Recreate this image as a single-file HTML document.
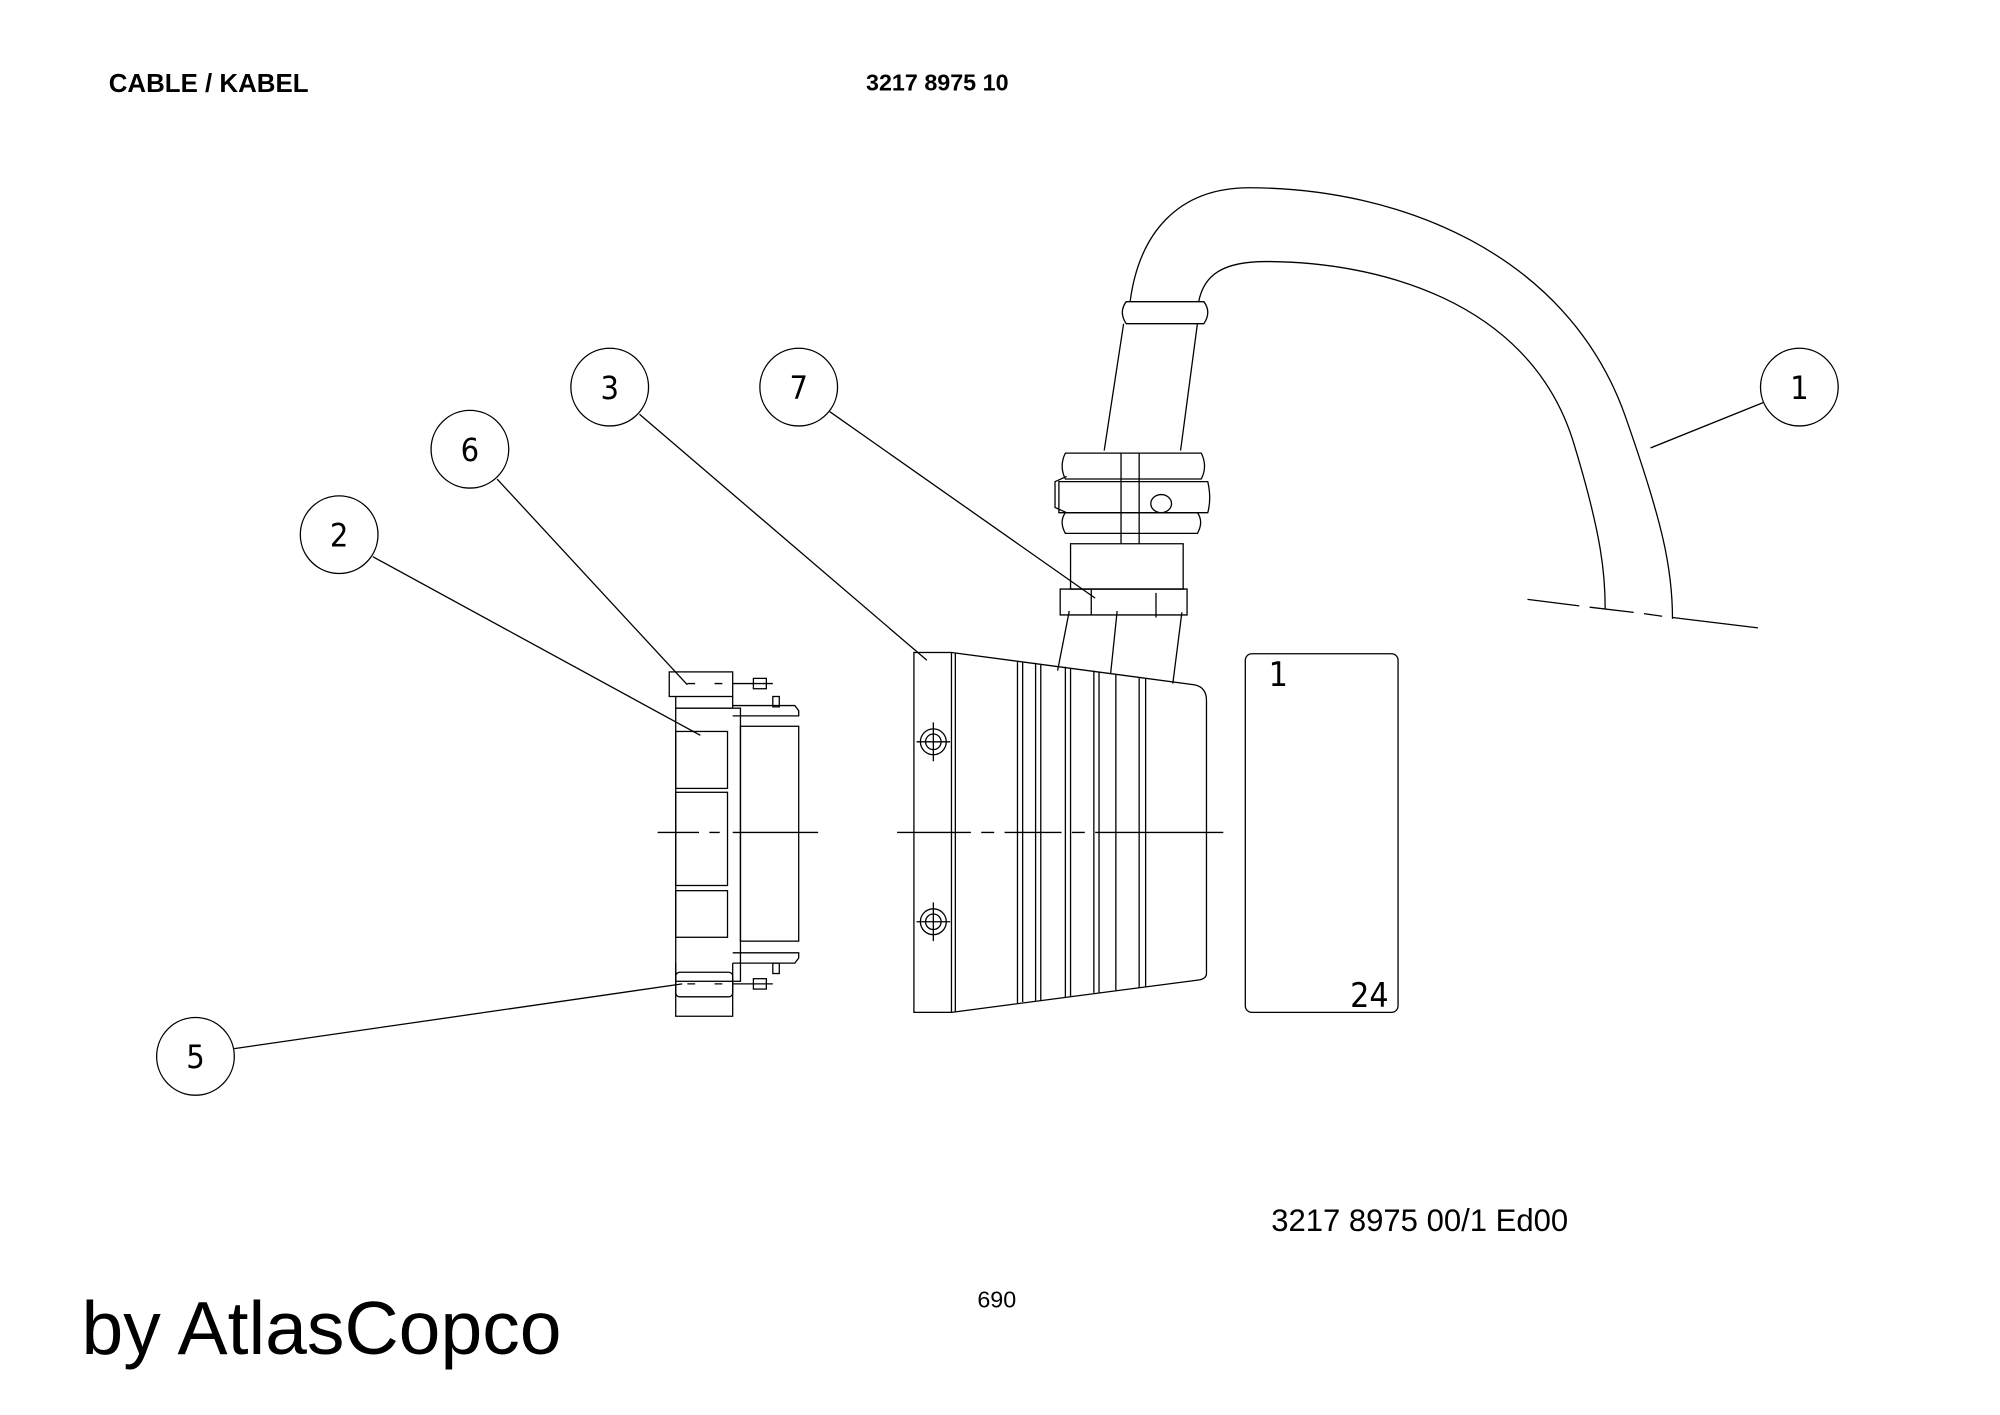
<!DOCTYPE html>
<html><head><meta charset="utf-8"><style>
html,body{margin:0;padding:0;background:#fff;}
svg{display:block}
</style></head><body>
<svg width="2000" height="1415" viewBox="0 0 1545 1093" xmlns="http://www.w3.org/2000/svg" font-family="Liberation Sans, sans-serif">
<rect width="1545" height="1093" fill="#fff"/>
<text x="84" y="71" font-size="20" font-weight="bold">CABLE / KABEL</text>
<text x="669" y="70" font-size="18" font-weight="bold">3217 8975 10</text>
<text x="982" y="951" font-size="24">3217 8975 00/1  Ed00</text>
<text x="755" y="1010" font-size="18">690</text>
<text x="63" y="1046" font-size="58">by AtlasCopco</text>

<g fill="none" stroke="#000" stroke-width="1">
<circle cx="1390" cy="299" r="30"/>
<circle cx="617" cy="299" r="30"/>
<circle cx="471" cy="299" r="30"/>
<circle cx="363" cy="347" r="30"/>
<circle cx="262" cy="413" r="30"/>
<circle cx="151" cy="816" r="30"/>
<line x1="1362" y1="311" x2="1275" y2="346"/>
<line x1="641" y1="318" x2="846" y2="462"/>
<line x1="494" y1="320" x2="716" y2="510"/>
<line x1="384" y1="370" x2="531" y2="529"/>
<line x1="288" y1="430" x2="541" y2="568"/>
<line x1="181" y1="810" x2="527" y2="760"/>

<rect x="517" y="519" width="49" height="19"/>
<path d="M522 538 V547 H566 V538"/>
<line x1="566" y1="528" x2="597" y2="528"/>
<rect x="582" y="524" width="10" height="8"/>
<rect x="597" y="538" width="5" height="8"/>
<path d="M566 545 H614 L617 549 V553 H566"/>
<rect x="522" y="547" width="50" height="211"/>
<rect x="522" y="565" width="40" height="44"/>
<rect x="522" y="612" width="40" height="72"/>
<rect x="522" y="688" width="40" height="36"/>
<rect x="572" y="561" width="45" height="166"/>
<path d="M566 736 H617 V740 L614 744 H566"/>
<rect x="597" y="744" width="5" height="8"/>
<path d="M522 744 V785 H566 V744"/>
<rect x="522" y="751" width="44" height="19" rx="3"/>
<line x1="566" y1="760" x2="597" y2="760"/>
<rect x="582" y="756" width="10" height="8"/>
<path d="M531 528 h10 M552 528 h8 M531 760 h10 M552 760 h8" stroke-dasharray="6 4"/>

<path d="M508 643 H540 M548 643 H556 M566 643 H632" />
<path d="M693 643 H750 M758 643 H768 M776 643 H820 M828 643 H838 M846 643 H945"/>

<rect x="706" y="504" width="29" height="278"/>
<line x1="738" y1="504" x2="738" y2="782"/>
<path d="M735 504 L923 529 Q932 531 932 541 V752 Q932 756 926 757 L735 782"/>
<path d="M786 511 V775 M790 511 V774 M800 512 V773 M804 513 V773 M823 515 V770 M827 516 V770 M845 518 V767 M849 519 V767 M862 521 V765 M880 523 V763 M885 524 V762"/>
<circle cx="721" cy="573" r="10"/><circle cx="721" cy="573" r="6"/>
<circle cx="721" cy="712" r="10"/><circle cx="721" cy="712" r="6"/>
<path d="M708 573 H734 M721 558 V588 M708 712 H734 M721 697 V727"/>

<rect x="962" y="505" width="118" height="277" rx="5"/>
</g>
<text x="980" y="530" font-size="26" font-family="DejaVu Sans Condensed, sans-serif" font-weight="200">1</text>
<text x="1043" y="778" font-size="26" font-family="DejaVu Sans Condensed, sans-serif" font-weight="200">24</text>

<g fill="none" stroke="#000" stroke-width="1">
<path d="M817 518 L826 472 M858 520 L863 472 M906 528 L913 473"/>
<path d="M819 455 H917 L917 475 H819 Z"/>
<path d="M843 455 V475 M893 458 V477"/>
<path d="M827 420 H914 V455 H827 Z"/>
<path d="M823 396 H925 Q930 403 925 412 H823 Q818 403 823 396 Z"/>
<path d="M818 372 H933 Q936 385 933 396 H818 Z"/>
<path d="M823 350 H928 Q933 360 928 370 H823 Q818 360 823 350 Z"/>
<path d="M866 350 V420 M880 350 V420"/>
<ellipse cx="897" cy="389" rx="8" ry="7"/>
<path d="M824 368 L815 372 V392 L824 396"/>
<path d="M853 348 L868 250 M912 348 L925 250"/>
<path d="M870 233 H930 Q936 241 930 250 H870 Q864 241 870 233 Z"/>
<path d="M873 233 C880 180 910 145 965 145 C1080 145 1210 195 1255 320 C1285 405 1292 440 1292 478"/>
<path d="M926 233 C930 212 945 202 978 202 C1060 202 1180 230 1215 340 C1238 415 1240 445 1240 470"/>
<path d="M1180 463 L1220 468 M1228 469 L1262 473 M1270 474 L1284 476 M1292 477 L1358 485"/>
</g>
<g font-size="25" font-family="DejaVu Sans Condensed, sans-serif" font-weight="200" text-anchor="middle">
<text x="1390" y="308">1</text>
<text x="617" y="308">7</text>
<text x="471" y="308">3</text>
<text x="363" y="356">6</text>
<text x="262" y="422">2</text>
<text x="151" y="825">5</text>
</g>
</svg>
</body></html>
